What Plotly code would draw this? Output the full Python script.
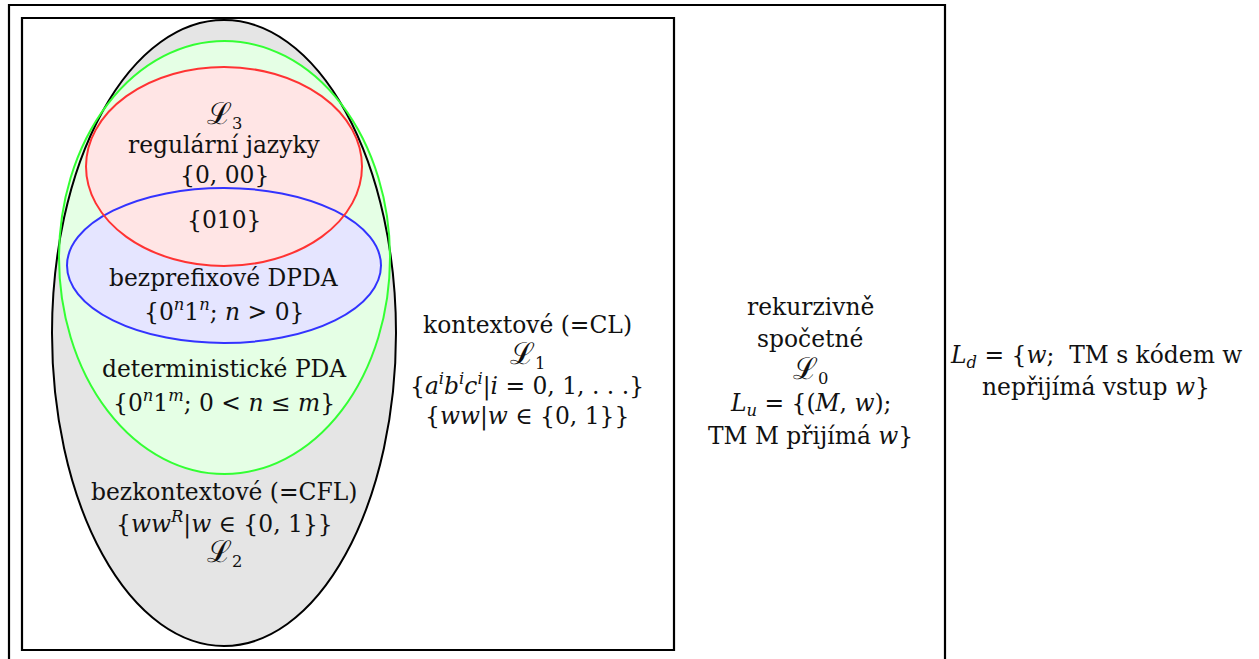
import plotly.graph_objects as go

# ---- diagram content ----
# language classes: name, bounding box (x0, y0, x1, y1) in picture pixels, line colour, fill colour
class_names = ["bezkontextové", "deterministické", "bezprefixové", "regulární"]
class_x0 = [52, 59, 67, 86]
class_x1 = [396, 390, 381, 362]
class_y0 = [20, 41, 188, 67]
class_y1 = [646, 474, 343, 266]
class_line = ["#000000", "#33ff33", "#3333ff", "#ff3333"]
class_fill = ["#e5e5e5", "#e5ffe5", "#e5e5ff", "#ffe5e5"]

# boxes: outer (rekurzivně spočetné), inner (kontextové)
box_x0 = [9, 22]
box_x1 = [945, 674]
box_y0 = [5, 18]
box_y1 = [680, 650]

SL = "<span style='font-size:30px'>ℒ</span>"

# text lines (x centre, y centre, html text)
labels = [
    (224, 114, SL + "<sub>3</sub>"),
    (224, 145, "regulární jazyky"),
    (224, 175, "{0, 00}"),
    (224, 220, "{010}"),
    (224, 278, "bezprefixové DPDA"),
    (224, 310, "{0<sup><i>n</i></sup>1<sup><i>n</i></sup>; <i>n</i> &gt; 0}"),
    (224, 369, "deterministické PDA"),
    (224, 401, "{0<sup><i>n</i></sup>1<sup><i>m</i></sup>; 0 &lt; <i>n</i> ≤ <i>m</i>}"),
    (224, 492, "bezkontextové (=CFL)"),
    (224, 523, "{<i>ww</i><sup><i>R</i></sup>|<i>w</i> ∈ {0, 1}}"),
    (224, 552, SL + "<sub>2</sub>"),
    (527, 325, "kontextové (=CL)"),
    (527, 354, SL + "<sub>1</sub>"),
    (527, 385, "{<i>a<sup>i</sup>b<sup>i</sup>c<sup>i</sup></i>|<i>i</i> = 0, 1, . . .}"),
    (527, 416, "{<i>ww</i>|<i>w</i> ∈ {0, 1}}"),
    (810, 307, "rekurzivně"),
    (810, 339, "spočetné"),
    (810, 369, SL + "<sub>0</sub>"),
    (810, 404, "<i>L<sub>u</sub></i> = {(<i>M</i>, <i>w</i>);"),
    (810, 436, "TM M přijímá <i>w</i>}"),
    (1096, 356, "<i>L<sub>d</sub></i> = {<i>w</i>;  TM s kódem w"),
    (1096, 387, "nepřijímá vstup <i>w</i>}"),
]

W, H = 1259, 659
fig = go.Figure()
fig.add_trace(go.Scatter(x=[0, W], y=[0, H], mode="markers",
                         marker=dict(opacity=0), hoverinfo="skip", showlegend=False))

shapes = []
for i in range(len(box_x0)):
    shapes.append(dict(type="rect", xref="x", yref="y",
                       x0=box_x0[i], x1=box_x1[i], y0=box_y0[i], y1=box_y1[i],
                       line=dict(color="#000000", width=2.2), fillcolor="rgba(0,0,0,0)",
                       layer="below"))
# fills first
for i in range(len(class_names)):
    shapes.append(dict(type="circle", xref="x", yref="y",
                       x0=class_x0[i], x1=class_x1[i], y0=class_y0[i], y1=class_y1[i],
                       line=dict(width=0), fillcolor=class_fill[i], layer="below"))
# outlines on top
for i in range(len(class_names)):
    shapes.append(dict(type="circle", xref="x", yref="y",
                       x0=class_x0[i], x1=class_x1[i], y0=class_y0[i], y1=class_y1[i],
                       line=dict(color=class_line[i], width=2),
                       fillcolor="rgba(0,0,0,0)", layer="below"))

annotations = []
for (x, y, t) in labels:
    annotations.append(dict(x=x, y=y, xref="x", yref="y", text=t, showarrow=False,
                            xanchor="center", yanchor="middle",
                            font=dict(family="DejaVu Serif, Liberation Serif, serif",
                                      size=23.4, color="#111111")))

fig.update_layout(
    width=W, height=H, margin=dict(l=0, r=0, t=0, b=0),
    paper_bgcolor="white", plot_bgcolor="white",
    xaxis=dict(range=[0, W], visible=False, fixedrange=True),
    yaxis=dict(range=[H, 0], visible=False, fixedrange=True),
    shapes=shapes, annotations=annotations, showlegend=False,
)
fig.write_html("out.html", config={"displayModeBar": False},
               post_script="document.body.style.margin='0px';")
